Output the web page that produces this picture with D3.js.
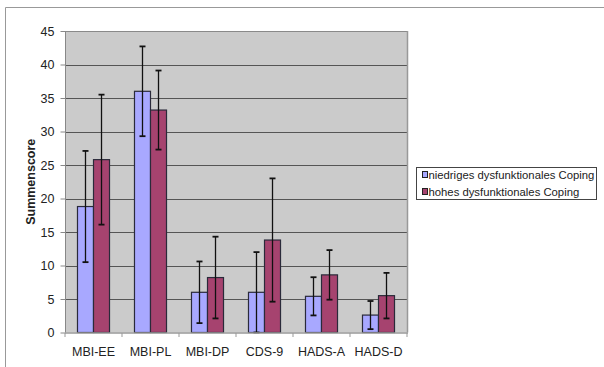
<!DOCTYPE html>
<html><head><meta charset="utf-8">
<script src="https://cdn.jsdelivr.net/npm/d3@7"></script>
<style>body{margin:0;background:#fff}svg{display:block}</style>
</head><body>
<script>
const categories = ["MBI-EE","MBI-PL","MBI-DP","CDS-9","HADS-A","HADS-D"];
const seriesNames = ["niedriges dysfunktionales Coping","hohes dysfunktionales Coping"];
const lowMeans = [18.8, 36.0, 6.0, 6.0, 5.4, 2.6];
const lowSD    = [8.3, 6.7, 4.6, 6.0, 2.85, 2.1];
const highMeans= [25.8, 33.2, 8.2, 13.8, 8.6, 5.5];
const highSD   = [9.7, 5.9, 6.1, 9.2, 3.7, 3.4];
const yTicks = [0,5,10,15,20,25,30,35,40,45];
const yTitle = "Summenscore";

const W=604,H=367;
const svg=d3.select("body").append("svg").attr("width",W).attr("height",H);
const font="Liberation Sans, Arial, sans-serif";
// outer frame
svg.append("line").attr("x1",5.5).attr("x2",W).attr("y1",7.5).attr("y2",7.5).attr("stroke","#999");
svg.append("line").attr("x1",5.5).attr("x2",5.5).attr("y1",7.5).attr("y2",H).attr("stroke","#999");

const L=65,R=405,T=31,B=332.5;
const x=d3.scaleBand().domain(categories).range([L,R+2]).paddingInner(0).paddingOuter(0);
const y=d3.scaleLinear().domain([0,45]).range([B,T]);
const inner=d3.scaleBand().domain([0,1]).range([0,x.bandwidth()]).paddingInner(0).paddingOuter(0.78);

svg.append("rect").attr("x",L).attr("y",T).attr("width",R+2-L).attr("height",B-T).attr("fill","#cbcbcb");
// gridlines
svg.append("g").selectAll("line").data(yTicks.filter(d=>d>0)).join("line")
  .attr("x1",L).attr("x2",R+2).attr("y1",d=>Math.round(y(d))+0.5).attr("y2",d=>Math.round(y(d))+0.5)
  .attr("stroke",d=>d===45?"#8a8a8a":"#555").attr("stroke-width",1);
svg.append("line").attr("x1",R+2.5).attr("x2",R+2.5).attr("y1",T).attr("y2",B).attr("stroke","#999").attr("stroke-width",1.5);

// bars
const data=[];
categories.forEach((c,i)=>{
  data.push({c,s:0,v:lowMeans[i],sd:lowSD[i]});
  data.push({c,s:1,v:highMeans[i],sd:highSD[i]});
});
const colors=["#a8a8ff","#a6436f"];
const g=svg.append("g");
g.selectAll("rect").data(data).join("rect")
  .attr("x",d=>x(d.c)+inner(d.s)).attr("width",inner.bandwidth())
  .attr("y",d=>y(d.v)).attr("height",d=>y(0)-y(d.v))
  .attr("fill",d=>colors[d.s]).attr("stroke","#2a2a3a").attr("stroke-width",1.2);
// error bars
const eb=svg.append("g").attr("stroke","#111").attr("stroke-width",1.3);
data.forEach(d=>{
  const cx=x(d.c)+inner(d.s)+inner.bandwidth()/2;
  const lo=Math.max(0,d.v-d.sd), hi=d.v+d.sd;
  eb.append("line").attr("x1",cx).attr("x2",cx).attr("y1",y(lo)).attr("y2",y(hi));
  eb.append("line").attr("x1",cx-3).attr("x2",cx+3).attr("y1",y(lo)).attr("y2",y(lo)).attr("stroke-width",1.8);
  eb.append("line").attr("x1",cx-3).attr("x2",cx+3).attr("y1",y(hi)).attr("y2",y(hi)).attr("stroke-width",1.8);
});

// axes
const ya=svg.append("g").attr("transform",`translate(${L+0.5},0)`)
  .call(d3.axisLeft(y).tickValues(yTicks).tickSize(5).tickPadding(6));
ya.select(".domain").attr("stroke","#888").attr("d",`M0,${T}V${B}`);
ya.selectAll(".tick line").attr("stroke","#888");
ya.selectAll("text").attr("font-family",font).attr("font-size",12.5).attr("fill","#222");

const xa=svg.append("g").attr("transform",`translate(0,${B+0.5})`);
xa.append("line").attr("x1",L).attr("x2",R+3).attr("stroke","#999").attr("stroke-width",1.5);
const bounds=categories.map(c=>x(c)).concat([R+2]);
xa.selectAll(".tk").data(bounds).join("line").attr("class","tk")
  .attr("x1",d=>d).attr("x2",d=>d).attr("y1",0).attr("y2",4).attr("stroke","#999");
xa.selectAll("text").data(categories).join("text")
  .attr("x",d=>x(d)+x.bandwidth()/2).attr("y",23).attr("text-anchor","middle")
  .attr("font-family",font).attr("font-size",12.5).attr("fill","#222").text(d=>d);

svg.append("text").attr("transform",`translate(35,${(T+B)/2}) rotate(-90)`)
  .attr("text-anchor","middle").attr("font-family",font).attr("font-size",12.5)
  .attr("font-weight","bold").attr("fill","#222").text(yTitle);

// legend
const lg=svg.append("g");
lg.append("rect").attr("x",416.5).attr("y",167.5).attr("width",180).attr("height",32)
  .attr("fill","#fff").attr("stroke","#444");
seriesNames.forEach((n,i)=>{
  const yy=175+i*17;
  lg.append("rect").attr("x",422.5).attr("y",yy-3.5).attr("width",5).attr("height",6)
    .attr("fill",colors[i]).attr("stroke","#222");
  lg.append("text").attr("x",428.5).attr("y",yy+4).attr("font-family",font).attr("font-size",11.3)
    .attr("fill","#222").text(n);
});
</script>
</body></html>
